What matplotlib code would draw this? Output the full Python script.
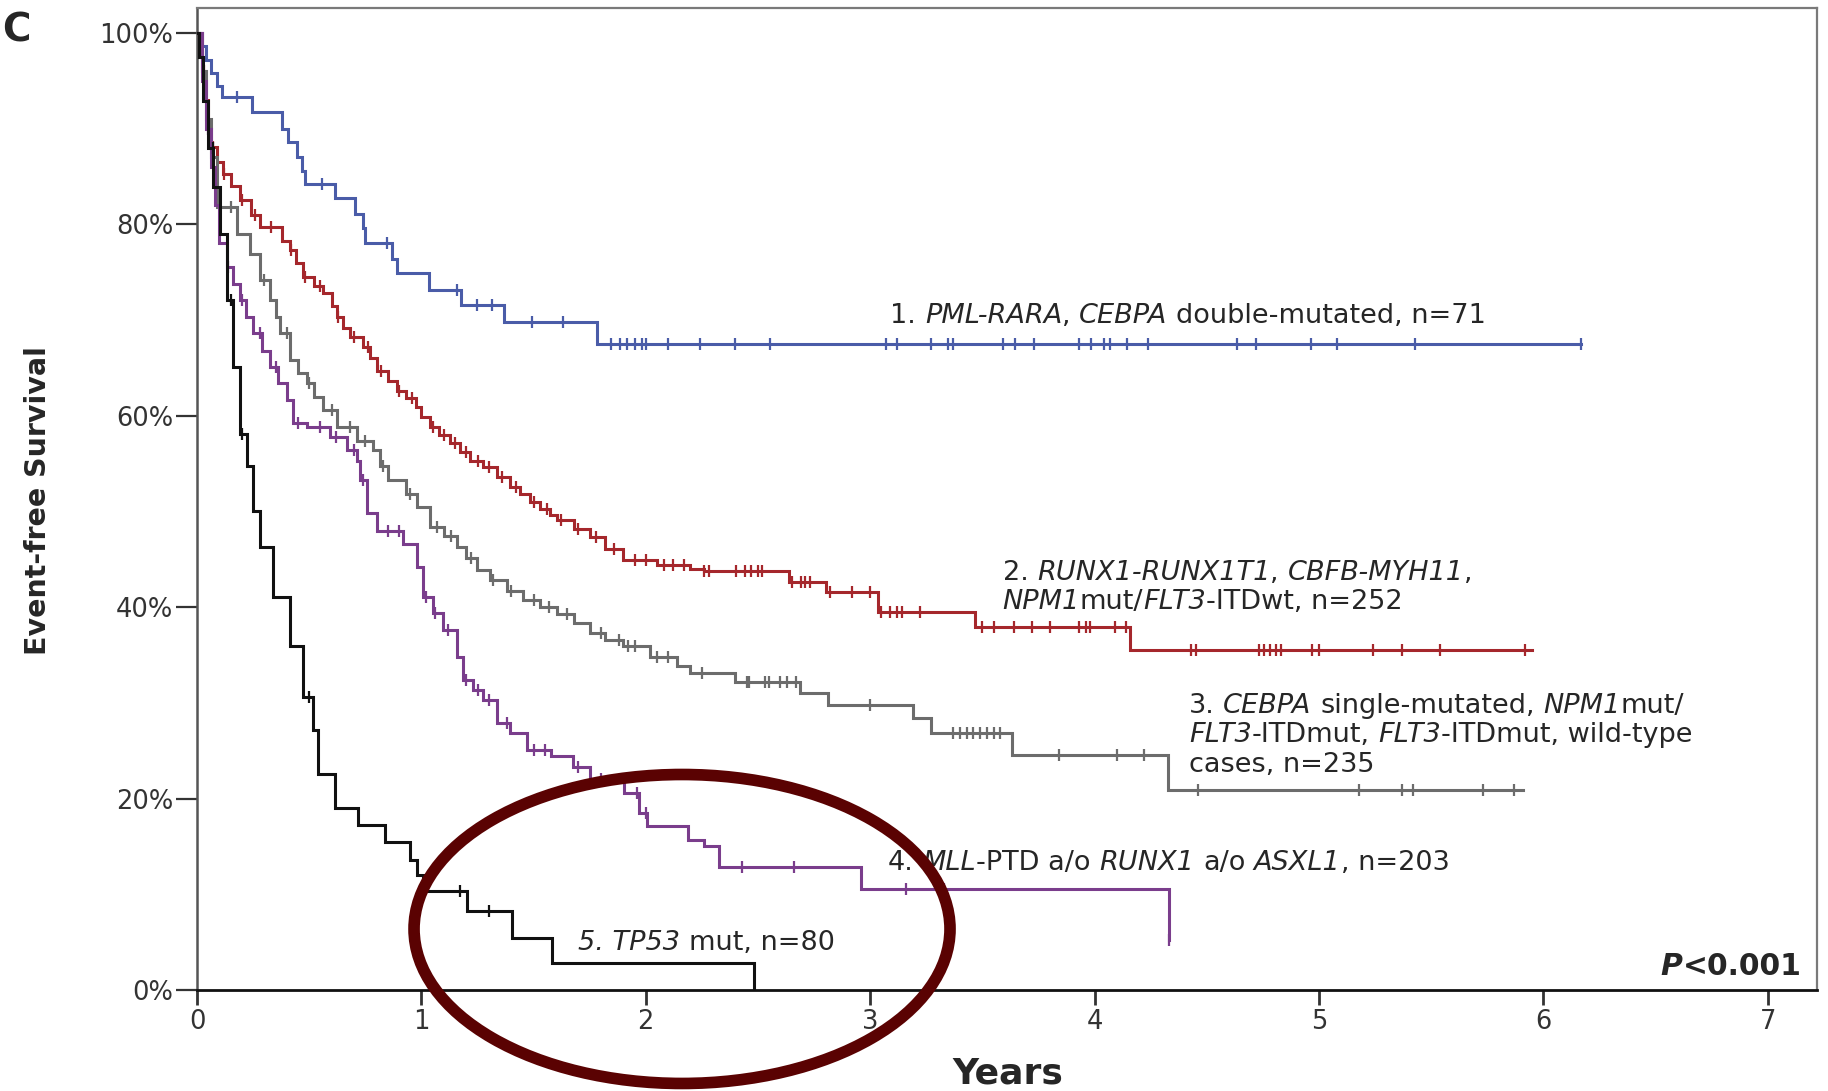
"""Event-free survival by genetic group (Kaplan-Meier), panel C.

Step curves and censor ticks are read off the published figure by eye.
"""
import numpy as np
import matplotlib
matplotlib.use("Agg")
import matplotlib.pyplot as plt
from matplotlib.patches import Ellipse

BLUE, RED, GRAY, PURPLE, BLACK = "#4a5ca8", "#a5272c", "#6c6c6c", "#7a3d8c", "#111111"
INK = "#262626"

# ---- group 1: PML-RARA / CEBPA double-mutated ------------------------------
T1 = [0, 0.02, 0.04, 0.06, 0.09, 0.11, 0.244, 0.377, 0.407, 0.444, 0.466,
      0.481, 0.615, 0.704, 0.741, 0.75, 0.867, 0.889, 1.035, 1.176, 1.369,
      1.783]
S1 = [100, 98.6, 97.2, 95.8, 94.4, 93.3, 91.7, 90.0, 88.6, 87.0, 85.6,
      84.2, 82.7, 81.1, 79.6, 78.0, 76.4, 74.9, 73.1, 71.6, 69.8, 67.5]
END1 = 6.17
C1 = [0.177, 0.555, 0.845, 1.157, 1.246, 1.313, 1.491, 1.632, 1.847, 1.884,
      1.914, 1.951, 1.981, 2.003, 2.1, 2.24, 2.396, 2.552, 3.07, 3.12, 3.27,
      3.345, 3.37, 3.59, 3.644, 3.73, 3.93, 3.985, 4.04, 4.07, 4.145, 4.24,
      4.635, 4.72, 4.965, 5.08, 5.43, 6.17]

# ---- group 2: RUNX1-RUNX1T1, CBFB-MYH11, NPM1mut/FLT3-ITDwt -----------------
T2 = [0, 0.01, 0.02, 0.035, 0.05, 0.058, 0.09, 0.117, 0.15, 0.191, 0.24,
      0.281, 0.38, 0.414, 0.44, 0.474, 0.52, 0.563, 0.6, 0.622, 0.65, 0.682,
      0.741, 0.77, 0.8, 0.85, 0.889, 0.93, 0.978, 1.0, 1.038, 1.08, 1.127,
      1.17, 1.216, 1.275, 1.335, 1.394, 1.44, 1.483, 1.53, 1.572, 1.602,
      1.68, 1.75, 1.82, 1.899, 2.048, 2.196, 2.26, 2.64, 2.805, 3.035, 3.466,
      4.156]
S2 = [100, 98.0, 96.0, 93.0, 90.0, 88.1, 86.5, 85.3, 84.0, 82.5, 81.0,
      79.7, 78.3, 77.3, 76.0, 74.5, 73.6, 72.8, 71.5, 70.3, 69.2, 68.2,
      67.2, 66.0, 64.7, 63.6, 62.6, 61.8, 60.9, 59.9, 58.8, 58.0, 57.1,
      56.2, 55.3, 54.6, 53.6, 52.6, 51.8, 51.0, 50.3, 49.6, 49.1,
      48.2, 47.3, 46.1, 44.9, 44.4, 44.0, 43.8, 42.6, 41.6, 39.5, 37.9,
      35.5]
END2 = 5.95
C2 = [0.03, 0.07, 0.12, 0.2, 0.26, 0.33, 0.42, 0.48, 0.55, 0.63, 0.7, 0.76,
      0.82, 0.9, 0.96, 1.05, 1.1, 1.15, 1.2, 1.25, 1.3, 1.36, 1.42, 1.5,
      1.56, 1.62, 1.7, 1.78, 1.86, 1.95, 2.0, 2.08, 2.12, 2.17, 2.26, 2.28,
      2.4, 2.44, 2.47, 2.5, 2.52, 2.65, 2.69, 2.71, 2.73, 2.82, 2.92, 3.0,
      3.05, 3.09, 3.12, 3.14, 3.22, 3.5, 3.55, 3.64, 3.72, 3.8, 3.93, 3.96,
      3.98, 4.09, 4.14, 4.43, 4.45, 4.735, 4.757, 4.78, 4.81, 4.83, 4.97,
      5.0, 5.24, 5.37, 5.54, 5.92]

# ---- group 3: CEBPA single-mutated, NPM1mut/FLT3-ITDmut, ..., wild-type ----
T3 = [0, 0.02, 0.04, 0.06, 0.087, 0.18, 0.236, 0.281, 0.325, 0.35, 0.37,
      0.414, 0.45, 0.489, 0.52, 0.563, 0.622, 0.711, 0.785, 0.815, 0.85,
      0.93, 0.979, 1.038, 1.1, 1.157, 1.2, 1.246, 1.305, 1.38, 1.454, 1.53,
      1.602, 1.68, 1.75, 1.82, 1.899, 2.018, 2.137, 2.196, 2.396, 2.686,
      2.812, 3.19, 3.27, 3.63, 4.327]
S3 = [100, 96, 91, 87, 81.8, 79.0, 76.9, 74.2, 72.1, 70.3, 68.6,
      65.8, 64.5, 63.4, 62.0, 60.6, 58.8, 57.4, 56.4, 54.7, 53.3,
      51.8, 50.5, 48.4, 47.4, 46.3, 45.1, 43.9, 42.8, 41.7, 40.7, 40.0,
      39.3, 38.3, 37.3, 36.6, 35.9, 34.8, 33.8, 33.1, 32.2, 31.0,
      29.8, 28.4, 26.8, 24.6, 20.9]
END3 = 5.91
C3 = [0.05, 0.15, 0.3, 0.4, 0.5, 0.6, 0.68, 0.75, 0.83, 0.95, 1.07, 1.13,
      1.22, 1.32, 1.4, 1.5, 1.57, 1.65, 1.8, 1.88, 1.92, 1.95, 2.05, 2.1,
      2.25, 2.45, 2.46, 2.53, 2.55, 2.6, 2.63, 2.67, 3.0, 3.37, 3.4, 3.43,
      3.46, 3.49, 3.52, 3.55, 3.58, 3.84, 4.1, 4.22, 4.46, 5.18, 5.37, 5.42,
      5.73, 5.87]

# ---- group 4: MLL-PTD a/o RUNX1 a/o ASXL1 ----------------------------------
T4 = [0, 0.02, 0.04, 0.06, 0.08, 0.1, 0.132, 0.16, 0.19, 0.22, 0.251, 0.29,
      0.325, 0.36, 0.4, 0.429, 0.489, 0.592, 0.667, 0.711, 0.726, 0.756,
      0.8, 0.919, 0.979, 1.008, 1.05, 1.097, 1.157, 1.186, 1.23, 1.275,
      1.335, 1.394, 1.469, 1.579, 1.676, 1.75, 1.902, 1.97, 2.004, 2.19,
      2.26, 2.328, 2.957, 4.334]
S4 = [100, 95, 90, 86, 82, 78, 75.5, 73.8, 72.1, 70.3, 68.6, 66.8,
      65.1, 63.4, 61.6, 59.2, 58.8, 57.8, 56.4, 55.3, 53.3, 49.8,
      48.0, 46.6, 44.2, 41.1, 39.4, 37.6, 34.8, 32.4, 31.3, 30.3,
      27.9, 26.8, 25.1, 24.4, 23.3, 22.0, 20.6, 18.5, 17.1, 15.7,
      15.0, 12.9, 10.5, 5.2]
END4 = 4.334
C4 = [0.05, 0.14, 0.2, 0.28, 0.35, 0.45, 0.55, 0.62, 0.7, 0.74, 0.85, 0.9,
      1.02, 1.06, 1.12, 1.2, 1.25, 1.3, 1.38, 1.5, 1.55, 1.7, 1.8, 1.96,
      2.0, 2.43, 2.66, 3.16, 3.33, 4.334]

# ---- group 5: TP53 mut -----------------------------------------------------
T5 = [0, 0.01, 0.028, 0.05, 0.073, 0.102, 0.132, 0.162, 0.191, 0.221, 0.25,
      0.281, 0.34, 0.414, 0.474, 0.518, 0.54, 0.615, 0.719, 0.837, 0.949,
      0.98, 1.008, 1.201, 1.402, 1.58, 2.48]
S5 = [100, 97.5, 92.9, 88.0, 83.9, 79.0, 72.1, 65.1, 58.1, 54.7, 50.0,
      46.3, 41.1, 35.9, 30.6, 27.2, 22.6, 19.0, 17.2, 15.5, 13.6,
      12.0, 10.3, 8.2, 5.4, 2.8, 0.0]
END5 = 2.48
C5 = [0.07, 0.15, 0.2, 0.5, 1.17, 1.3]

XTICKS = [0, 1, 2, 3, 4, 5, 6, 7]
YTICKS = [0, 20, 40, 60, 80, 100]
YTICKLABELS = ["0%", "20%", "40%", "60%", "80%", "100%"]

LABEL_SIZE = 19.5
SPACE = 0.32  # DejaVu space advance, in em


def km(ax, t, s, end, cens, color, z):
    t = np.asarray(t, float)
    s = np.asarray(s, float)
    ax.step(np.append(t, end), np.append(s, s[-1]), where="post",
            color=color, lw=2.2, zorder=z, solid_joinstyle="miter")
    c = np.asarray(cens, float)
    idx = np.searchsorted(t, c, side="right") - 1
    ax.plot(c, s[idx], ls="none", marker="|", ms=9, mew=1.6, color=color,
            zorder=z)


def rich(ax, x, y, parts, size=LABEL_SIZE, color=INK, weight="normal"):
    """One line of mixed italic/roman text, chained left to right."""
    prev = None
    for txt, italic in parts:
        gap = SPACE * size if txt.startswith(" ") else 0.0
        txt = txt.lstrip(" ")
        kw = dict(fontsize=size, color=color, fontweight=weight,
                  fontstyle="italic" if italic else "normal", zorder=7)
        if prev is None:
            prev = ax.text(x, y, txt, ha="left", va="baseline", **kw)
        else:
            prev = ax.annotate(txt, xy=(1, 0), xycoords=prev,
                               xytext=(gap, 0), textcoords="offset points",
                               ha="left", va="bottom", **kw)
    return prev


def main():
    plt.rcParams.update({"font.family": "DejaVu Sans"})
    fig = plt.figure(figsize=(18.28, 10.91), dpi=100)
    ax = fig.add_axes([0.1078, 0.0926, 0.8862, 0.9001])

    km(ax, T1, S1, END1, C1, BLUE, 3)
    km(ax, T2, S2, END2, C2, RED, 3.2)
    km(ax, T3, S3, END3, C3, GRAY, 3.4)
    km(ax, T4, S4, END4, C4, PURPLE, 3.6)
    km(ax, T5, S5, END5, C5, BLACK, 3.8)

    ax.set_xlim(0, 7.22)
    ax.set_ylim(0, 102.6)
    ax.set_xticks(XTICKS)
    ax.set_yticks(YTICKS)
    ax.set_yticklabels(YTICKLABELS)
    ax.tick_params(axis="y", length=15, width=1.6, pad=2, labelsize=18.5,
                   colors="#333333")
    ax.tick_params(axis="x", length=11, width=2.0, pad=3, labelsize=18.5,
                   colors="#333333")
    for side in ("top", "right"):
        ax.spines[side].set_color("#7a7a7a")
        ax.spines[side].set_linewidth(1.6)
    ax.spines["left"].set_color("#555555")
    ax.spines["left"].set_linewidth(1.8)
    ax.spines["bottom"].set_color("#111111")
    ax.spines["bottom"].set_linewidth(2.0)

    # curve labels
    rich(ax, 3.09, 69.7, [("1.", False), (" PML-RARA", True), (",", False),
                          (" CEBPA", True), (" double-mutated, n=71", False)])
    rich(ax, 3.59, 42.8, [("2.", False), (" RUNX1-RUNX1T1", True), (",", False),
                          (" CBFB-MYH11", True), (",", False)])
    rich(ax, 3.59, 39.8, [("NPM1", True), ("mut/", False), ("FLT3", True),
                          ("-ITDwt, n=252", False)])
    rich(ax, 4.42, 28.9, [("3.", False), (" CEBPA", True),
                          (" single-mutated,", False), (" NPM1", True),
                          ("mut/", False)])
    rich(ax, 4.42, 25.9, [("FLT3", True), ("-ITDmut,", False), (" FLT3", True),
                          ("-ITDmut, wild-type", False)])
    rich(ax, 4.42, 22.8, [("cases, n=235", False)])
    rich(ax, 3.08, 12.5, [("4.", False), (" MLL", True), ("-PTD a/o", False),
                          (" RUNX1", True), (" a/o", False), (" ASXL1", True),
                          (", n=203", False)])
    rich(ax, 1.70, 4.2, [("5. TP53", True), (" mut, n=80", False)])

    p = ax.text(7.15, 1.6, "<0.001", fontsize=21.5, fontweight="bold",
                color=INK, ha="right", va="baseline", zorder=7)
    ax.annotate("P", xy=(0, 0), xycoords=p, fontsize=21.5, fontweight="bold",
                fontstyle="italic", color=INK, ha="right", va="bottom",
                zorder=7)

    fig.text(0.021, 0.541, "Event-free Survival", rotation=90, fontsize=20.5,
             fontweight="bold", color=INK, ha="center", va="center")
    fig.text(0.5515, 0.0157, "Years", fontsize=26, fontweight="bold",
             color=INK, ha="center", va="center")
    # panel letter sits hard against the left edge, as in the source
    fig.text(0.001, 0.972, "C", fontsize=28, fontweight="bold", color=INK,
             ha="left", va="center")

    # hand-drawn highlight ring round the TP53 curve
    ring = Ellipse((0.3731, 0.1485), 0.2932, 0.2832, transform=fig.transFigure,
                   fill=False, edgecolor="#5a0202", lw=8.4, zorder=10,
                   clip_on=False)
    fig.add_artist(ring)

    fig.savefig("out.png", dpi=100, facecolor="white")


if __name__ == "__main__":
    main()
